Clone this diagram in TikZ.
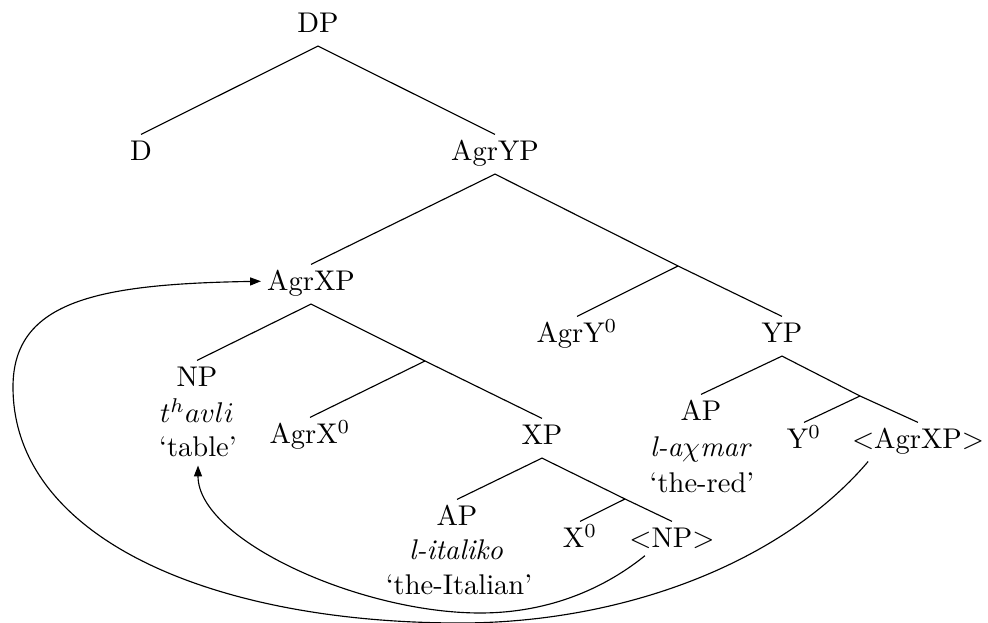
\documentclass[tikz,border=0pt]{standalone}
\usetikzlibrary{arrows.meta}
\begin{document}
\begin{tikzpicture}[x=0.351pt,y=-0.351pt,
  tn/.style={inner sep=0pt,text height=6.83pt,text depth=0pt,anchor=base},
  br/.style={line width=0.4pt},
  mv/.style={line width=0.4pt,-{Triangle[length=3.8pt,width=2.8pt]}}]
\useasboundingbox (0,0) rectangle (988,623);
% nodes
\node[tn] (dp) at (318,33) {DP};
\node[tn] (d) at (141,161) {D};
\node[tn] (agryp) at (495,161) {AgrYP};
\node[tn] (agrxp) at (311,291) {AgrXP};
\node[tn] (agry0) at (577,343) {AgrY$^0$};
\node[tn] (yp) at (782,343) {YP};
\node[tn] (np) at (197,387) {NP};
\node[tn] (npa) at (197,423) {$t^havli$};
\node[tn] (npb) at (198,457) {`table'};
\node[tn] (agrx0) at (310,444) {AgrX$^0$};
\node[tn] (xp) at (542,445) {XP};
\node[tn] (apr) at (701,421) {AP};
\node[tn] (apra) at (701,457) {\textit{l-a$\chi$mar}};
\node[tn] (aprb) at (702,493) {`the-red'};
\node[tn] (y0) at (804,449) {Y$^0$};
\node[tn] (agrxpt) at (918,449) {$<$AgrXP$>$};
\node[tn] (apl) at (457,526) {AP};
\node[tn] (apla) at (456,560) {\textit{l-italiko}};
\node[tn] (aplb) at (459,595) {`the-Italian'};
\node[tn] (x0) at (580,548) {X$^0$};
\node[tn] (npt) at (672,548) {$<$NP$>$};
% junctions
\coordinate (j1) at (678,266);
\coordinate (j2) at (425,361);
\coordinate (j3) at (625,499);
\coordinate (j4) at (860,396);
% branches
\draw[br] ([yshift=2.3pt]d.north) -- ([yshift=-4.4pt]dp.south) -- ([yshift=2.3pt]agryp.north);
\draw[br] ([yshift=2.3pt]agrxp.north) -- ([yshift=-4.4pt]agryp.south) -- (j1) -- ([yshift=2.3pt]yp.north);
\draw[br] (j1) -- ([yshift=2.3pt]agry0.north);
\draw[br] ([yshift=2.3pt]np.north) -- ([yshift=-4.4pt]agrxp.south) -- (j2) -- ([yshift=2.3pt]xp.north);
\draw[br] (j2) -- ([yshift=2.3pt]agrx0.north);
\draw[br] ([yshift=2.3pt]apr.north) -- ([yshift=-4.4pt]yp.south) -- (j4) -- ([yshift=2.3pt]agrxpt.north);
\draw[br] (j4) -- ([yshift=2.3pt]y0.north);
\draw[br] ([yshift=2.3pt]apl.north) -- ([yshift=-4.4pt]xp.south) -- (j3) -- ([yshift=2.3pt]npt.north);
\draw[br] (j3) -- ([yshift=2.3pt]x0.north);
% movement arrows
\coordinate (s1) at ([xshift=-17.5pt,yshift=-4.2pt]agrxpt.south);
\coordinate (s2) at ([xshift=-9.5pt,yshift=-2.5pt]npt.south);
\draw[mv] (s1) .. controls (780,565) and (620,623) .. (460,623)
  .. controls (210,623) and (13,537) .. (13,387)
  .. controls (13,300) and (100,284) .. ([xshift=-2pt]agrxp.west);
\draw[mv] (s2) .. controls (615,580) and (560,613) .. (480,613)
  .. controls (360,613) and (198,540) .. ([yshift=-2.8pt]npb.south);
\end{tikzpicture}
\end{document}
